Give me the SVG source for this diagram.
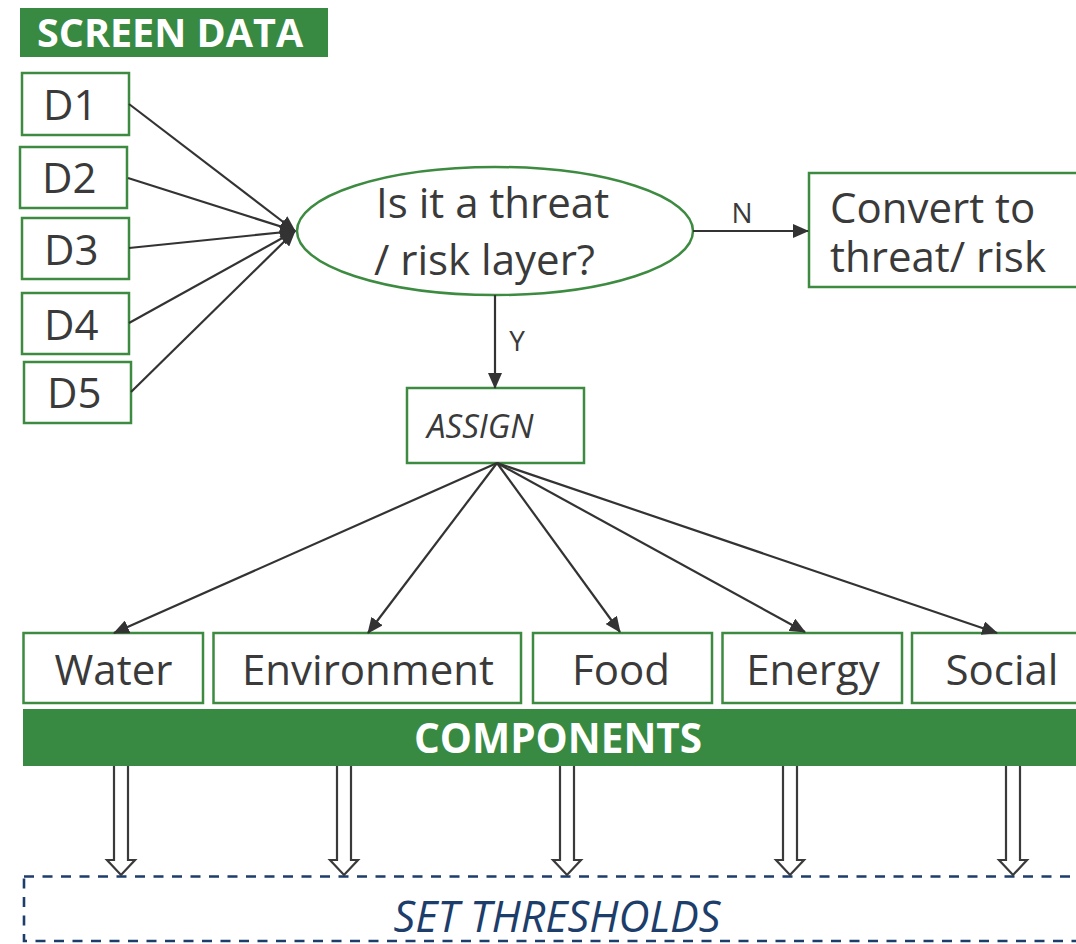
<svg xmlns="http://www.w3.org/2000/svg" width="1076" height="944" viewBox="0 0 1076 944">
  <style>
    .box { fill: #ffffff; stroke: #3d8b41; stroke-width: 2.5; }
    .bar { fill: #388a42; }
    .lbl { font-family: "Open Sans", "Noto Sans", sans-serif; fill: #3a3a3a; }
    .big { font-size: 42px; }
    .small { font-size: 28px; }
    .head { font-family: "Open Sans", "Noto Sans", sans-serif; font-weight: bold; fill: #ffffff; }
    .edge { stroke: #333333; stroke-width: 2.2; fill: none; }
    .hollow { fill: #ffffff; stroke: #3a3a3a; stroke-width: 2.2; stroke-linejoin: miter; }
    .navy { fill: #1d3d6b; }
  </style>
  <defs>
    <marker id="arrow" markerUnits="userSpaceOnUse" markerWidth="16" markerHeight="14" refX="15" refY="7" orient="auto">
      <path d="M0,0 L16,7 L0,14 Z" fill="#333333"/>
    </marker>
  </defs>

  <!-- header -->
  <g id="screen-data">
    <rect class="bar" x="20" y="8" width="308" height="49"/>
    <text class="head" x="37" y="47" font-size="39.5">SCREEN DATA</text>
  </g>

  <!-- data inputs -->
  <g id="d1"><rect class="box" x="22" y="73" width="107" height="62"/><text class="lbl big" x="43" y="120">D1</text></g>
  <g id="d2"><rect class="box" x="20" y="147" width="107" height="61"/><text class="lbl big" x="42" y="193">D2</text></g>
  <g id="d3"><rect class="box" x="22" y="218" width="107" height="61"/><text class="lbl big" x="44" y="265">D3</text></g>
  <g id="d4"><rect class="box" x="22" y="293" width="107" height="61"/><text class="lbl big" x="44" y="340">D4</text></g>
  <g id="d5"><rect class="box" x="24" y="362" width="107" height="61"/><text class="lbl big" x="47" y="408">D5</text></g>

  <!-- decision -->
  <g id="decision">
    <ellipse cx="495" cy="231" rx="198" ry="64" fill="#ffffff" stroke="#3d8b41" stroke-width="2.5"/>
    <text class="lbl big" x="376" y="218">Is it a threat</text>
    <text class="lbl big" x="374" y="275">/ risk layer?</text>
  </g>

  <g id="convert">
    <rect class="box" x="809" y="173" width="280" height="114"/>
    <text class="lbl big" x="830" y="223">Convert to</text>
    <text class="lbl big" x="830" y="272">threat/ risk</text>
  </g>

  <g id="assign">
    <rect class="box" x="407" y="388" width="177" height="75"/>
    <text class="lbl" x="427" y="438" font-size="33" font-style="italic">ASSIGN</text>
  </g>

  <!-- component boxes -->
  <g id="water"><rect class="box" x="23.5" y="633" width="179.5" height="70"/><text class="lbl big" x="113.5" y="685" text-anchor="middle">Water</text></g>
  <g id="environment"><rect class="box" x="213.5" y="633" width="307.5" height="70"/><text class="lbl big" x="368" y="685" text-anchor="middle">Environment</text></g>
  <g id="food"><rect class="box" x="533" y="633" width="179" height="70"/><text class="lbl big" x="621" y="685" text-anchor="middle">Food</text></g>
  <g id="energy"><rect class="box" x="722.5" y="633" width="179.5" height="70"/><text class="lbl big" x="813" y="685" text-anchor="middle">Energy</text></g>
  <g id="social"><rect class="box" x="912" y="633" width="180" height="70"/><text class="lbl big" x="1002" y="685" text-anchor="middle">Social</text></g>

  <g id="components">
    <rect class="bar" x="23" y="709" width="1060" height="57"/>
    <text class="head" x="558" y="753" font-size="40.5" text-anchor="middle">COMPONENTS</text>
  </g>

  <g id="thresholds">
    <rect x="24" y="876.5" width="1070" height="64.5" fill="none" stroke="#1d3d6b" stroke-width="2.6" stroke-dasharray="10 8.5"/>
    <text class="navy" x="557" y="932" font-family="'Open Sans', 'Noto Sans', sans-serif" font-size="43" font-style="italic" text-anchor="middle">SET THRESHOLDS</text>
  </g>

  <!-- connectors -->
  <g id="connectors">
    <line class="edge" x1="129" y1="104" x2="295" y2="231" marker-end="url(#arrow)"/>
    <line class="edge" x1="128" y1="178" x2="295" y2="231" marker-end="url(#arrow)"/>
    <line class="edge" x1="129" y1="248" x2="295" y2="231" marker-end="url(#arrow)"/>
    <line class="edge" x1="129" y1="323" x2="295" y2="231" marker-end="url(#arrow)"/>
    <line class="edge" x1="131" y1="392" x2="295" y2="231" marker-end="url(#arrow)"/>

    <line class="edge" x1="693" y1="231" x2="808" y2="231" marker-end="url(#arrow)"/>
    <text class="lbl small" x="742" y="223" text-anchor="middle">N</text>

    <line class="edge" x1="495" y1="295" x2="495" y2="388" marker-end="url(#arrow)"/>
    <text class="lbl small" x="517" y="351" text-anchor="middle">Y</text>

    <line class="edge" x1="497" y1="463" x2="114" y2="633" marker-end="url(#arrow)"/>
    <line class="edge" x1="497" y1="463" x2="368" y2="633" marker-end="url(#arrow)"/>
    <line class="edge" x1="497" y1="463" x2="620" y2="632" marker-end="url(#arrow)"/>
    <line class="edge" x1="497" y1="463" x2="805" y2="632" marker-end="url(#arrow)"/>
    <line class="edge" x1="497" y1="463" x2="997" y2="633" marker-end="url(#arrow)"/>

    <!-- hollow block arrows down to thresholds -->
    <path class="hollow" d="M114,766 V860 H107 L121,875 L135,860 H128 V766"/>
    <path class="hollow" d="M337,766 V860 H330 L344,875 L358,860 H351 V766"/>
    <path class="hollow" d="M560,766 V860 H553 L567,875 L581,860 H574 V766"/>
    <path class="hollow" d="M783,766 V860 H776 L790,875 L804,860 H797 V766"/>
    <path class="hollow" d="M1006,766 V860 H999 L1013,875 L1027,860 H1020 V766"/>
  </g>
</svg>
